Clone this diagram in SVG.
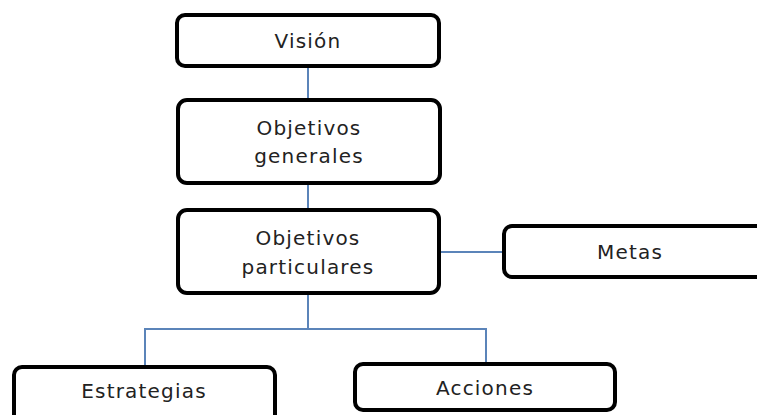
<svg xmlns="http://www.w3.org/2000/svg" width="757" height="415" viewBox="0 0 757 415">
<style>
.box{fill:#fff;stroke:#000;stroke-width:4}
.lbl{font-family:"DejaVu Sans",Verdana,sans-serif;font-size:20px;letter-spacing:1.2px;fill:#222;text-anchor:middle}
.con{fill:none;stroke:#5b84b9;stroke-width:2}
</style>
<rect width="757" height="415" fill="#fff"/>
<g id="connectors">
<line class="con" x1="308" y1="68" x2="308" y2="98"/>
<line class="con" x1="308" y1="185" x2="308" y2="208"/>
<line class="con" x1="440" y1="252" x2="502" y2="252"/>
<polyline class="con" points="308,295 308,329"/>
<polyline class="con" points="145,365 145,329 486,329 486,362"/>
</g>
<g id="vision">
<rect class="box" x="177" y="15" width="262" height="51" rx="8"/>
<text class="lbl" x="308" y="48">Visión</text>
</g>
<g id="objetivos-generales">
<rect class="box" x="178" y="100" width="262" height="83" rx="9"/>
<text class="lbl" x="309" y="135">Objetivos</text>
<text class="lbl" x="309" y="163">generales</text>
</g>
<g id="objetivos-particulares">
<rect class="box" x="178" y="210" width="261" height="83" rx="9"/>
<text class="lbl" x="308" y="245">Objetivos</text>
<text class="lbl" x="308" y="274">particulares</text>
</g>
<g id="metas">
<rect class="box" x="504" y="226" width="260" height="51" rx="8"/>
<text class="lbl" x="630" y="259">Metas</text>
</g>
<g id="estrategias">
<rect class="box" x="14" y="367" width="261" height="60" rx="8"/>
<text class="lbl" x="144" y="398">Estrategias</text>
</g>
<g id="acciones">
<rect class="box" x="355" y="364" width="260" height="46" rx="8"/>
<text class="lbl" x="485" y="395">Acciones</text>
</g>
</svg>
